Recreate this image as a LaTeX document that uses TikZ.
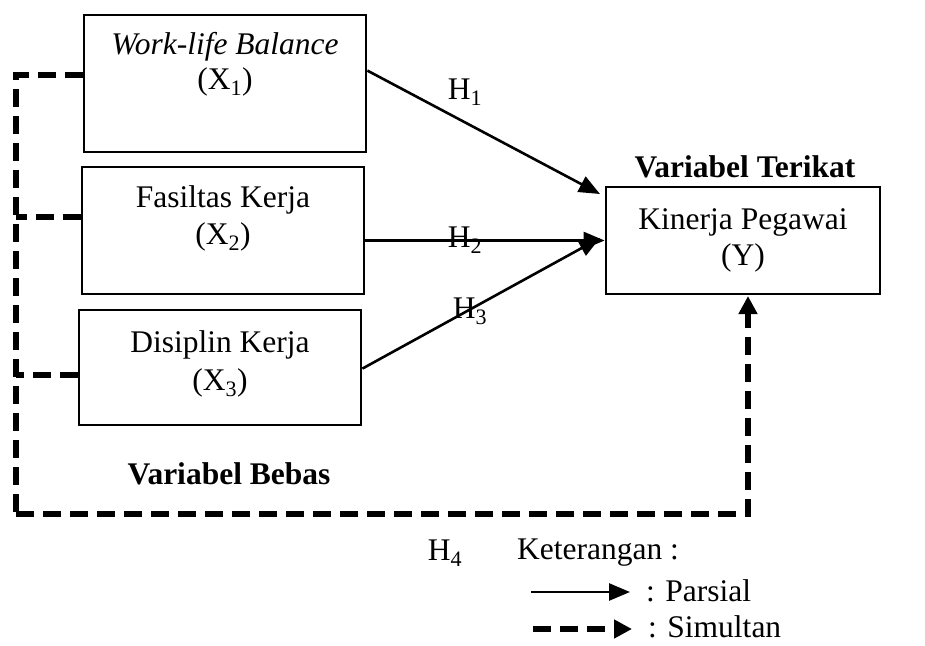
\documentclass[tikz,border=0pt]{standalone}
\usepackage{fontspec}
\setmainfont{Liberation Serif}
\usetikzlibrary{arrows.meta,calc}
\begin{document}
\begin{tikzpicture}[x=1pt,y=-1pt,
  box/.style={draw,line width=2.8pt,rectangle,inner sep=0pt},
  txt/.style={font=\fontsize{31.5}{37}\selectfont,inner sep=0pt,align=center},
  bold/.style={txt,font=\fontsize{31.5}{37}\selectfont\bfseries},
  solidarr/.style={line width=2.6pt,-{Triangle[length=21pt,width=17pt]}},
  dasharr/.style={line width=5.5pt,dash pattern=on 18pt off 9pt,-{Triangle[length=18pt,width=18pt]}},
  dashline/.style={line width=5.5pt,dash pattern=on 18pt off 9pt}]
\useasboundingbox (0,0) rectangle (925,645);
% boxes
\node[box,minimum width=282pt,minimum height=137pt] (x1) at (225,83.5) {};
\node[box,minimum width=282pt,minimum height=127pt] (x2) at (223,230.5) {};
\node[box,minimum width=282pt,minimum height=115pt] (x3) at (220,367.5) {};
\node[box,minimum width=274pt,minimum height=107pt] (y) at (743,240.5) {};
% texts
\node[txt] (t1a) at (225,47) {\itshape Work-life Balance};
\node[txt] (t1b) at (225,82) {(X\textsubscript{1})};
\node[txt] (t2a) at (223,200) {Fasiltas Kerja};
\node[txt] (t2b) at (223,237) {(X\textsubscript{2})};
\node[txt] (t3a) at (220,345) {Disiplin Kerja};
\node[txt] (t3b) at (220,383) {(X\textsubscript{3})};
\node[txt] (tya) at (743,222) {Kinerja Pegawai};
\node[txt] (tyb) at (743,258) {(Y)};
\node[bold] (vt) at (745,167) {Variabel Terikat};
\node[bold] (vb) at (229,474) {Variabel Bebas};
\node[txt] (h1) at (465,92) {H\textsubscript{1}};
\node[txt] (h2) at (465,240) {H\textsubscript{2}};
\node[txt] (h3) at (470,311) {H\textsubscript{3}};
\node[txt] (h4) at (445,553) {H\textsubscript{4}};
\node[txt] (ket) at (598,553) {Keterangan :};
% partial arrows
\coordinate (s1) at ($(x1.north east)+(0,57)$);
\coordinate (e1) at (600,194);
\coordinate (s3) at ($(x3.north east)+(0,60)$);
\coordinate (e3) at (600,238);
\draw[solidarr] (s1) -- (e1);
\draw[solidarr] (x2.east |- y.west) -- (y.west);
\draw[solidarr] (s3) -- (e3);
% simultaneous
\coordinate (c1) at (16,75);
\coordinate (c2) at (16,217);
\coordinate (c3) at (16,375);
\coordinate (c4) at (16,514);
\coordinate (c5) at (748,514);
\coordinate (yb) at (748,296);
\draw[dashline] (x1.west |- c1) -- (c1) -- (c4);
\draw[dasharr] (c4) -- (c5) -- (yb);
\draw[dashline] (x2.west |- c2) -- (c2);
\draw[dashline] (x3.west |- c3) -- (c3);
% legend
\coordinate (l1a) at (531,592);
\coordinate (l1b) at (630,592);
\coordinate (l2a) at (533,629);
\coordinate (l2b) at (632,629);
\draw[solidarr] (l1a) -- (l1b);
\draw[dasharr] (l2a) -- (l2b);
\node[txt,anchor=west] (lp) at (646,591) {: Parsial};
\node[txt,anchor=west] (ls) at (648,627) {: Simultan};
\end{tikzpicture}
\end{document}
